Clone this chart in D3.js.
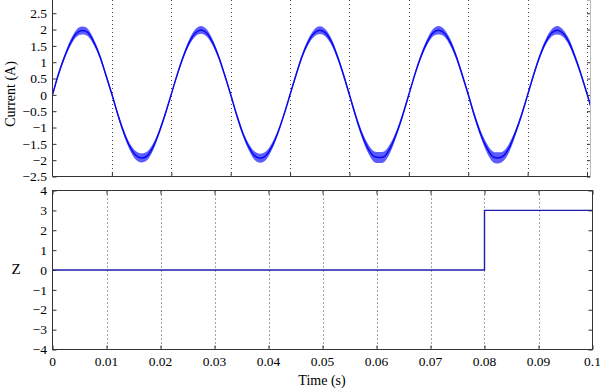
<!DOCTYPE html>
<html>
<head>
<meta charset="utf-8">
<script src="https://cdn.jsdelivr.net/npm/d3@7"></script>
<style>
  body { margin: 0; background: #fff; }
  svg { display: block; }
  svg text { font-family: "Liberation Serif", "Times New Roman", Times, serif; }
</style>
</head>
<body>
<div id="chart"></div>
<script>
var currentTime = d3.range(0, 92).map(function(k) { return k / 1000; });
var currentValue = [
  0.00, 0.63, 1.15, 1.58, 1.88, 1.97, 1.90, 1.60, 1.17, 0.60,
  0.02, -0.60, -1.15, -1.58, -1.85, -1.93, -1.86, -1.57, -1.12, -0.58,
  0.02, 0.62, 1.16, 1.60, 1.89, 1.99, 1.89, 1.59, 1.15, 0.60,
  0.01, -0.61, -1.16, -1.58, -1.86, -1.94, -1.85, -1.56, -1.13, -0.59,
  0.01, 0.61, 1.17, 1.60, 1.88, 1.98, 1.89, 1.61, 1.16, 0.61,
  0.00, -0.62, -1.17, -1.60, -1.87, -1.92, -1.87, -1.58, -1.14, -0.60,
  0.01, 0.62, 1.16, 1.59, 1.89, 1.98, 1.89, 1.60, 1.16, 0.60,
  0.01, -0.61, -1.15, -1.58, -1.87, -1.93, -1.86, -1.58, -1.13, -0.60,
  0.00, 0.61, 1.16, 1.60, 1.89, 1.98, 1.88, 1.60, 1.15, 0.62,
  0.03, -0.58
];
// half width of the noise band around the trace
var currentNoise = [
  0.04, 0.06, 0.07, 0.09, 0.11, 0.12, 0.11, 0.09, 0.07, 0.06,
  0.05, 0.06, 0.08, 0.10, 0.13, 0.14, 0.13, 0.10, 0.07, 0.06,
  0.04, 0.06, 0.07, 0.09, 0.11, 0.12, 0.11, 0.09, 0.07, 0.06,
  0.05, 0.06, 0.08, 0.10, 0.13, 0.14, 0.13, 0.10, 0.07, 0.06,
  0.04, 0.06, 0.07, 0.09, 0.11, 0.12, 0.11, 0.10, 0.08, 0.07,
  0.06, 0.08, 0.10, 0.13, 0.16, 0.17, 0.16, 0.13, 0.09, 0.07,
  0.05, 0.06, 0.07, 0.09, 0.11, 0.13, 0.11, 0.10, 0.08, 0.07,
  0.06, 0.08, 0.10, 0.13, 0.16, 0.17, 0.15, 0.13, 0.09, 0.07,
  0.05, 0.06, 0.07, 0.09, 0.11, 0.13, 0.11, 0.10, 0.08, 0.07,
  0.06, 0.07
];
var currentTicks = [-2.5, -2, -1.5, -1, -0.5, 0, 0.5, 1, 1.5, 2, 2.5];
var topTimeTicks = [0.01, 0.02, 0.03, 0.04, 0.05, 0.06, 0.07, 0.08, 0.09];

// switching state Z
var zTime = [0, 0.08, 0.08, 0.1];
var zValue = [0, 0, 3, 3];
var zTicks = [-4, -3, -2, -1, 0, 1, 2, 3, 4];
var timeTicks = [0, 0.01, 0.02, 0.03, 0.04, 0.05, 0.06, 0.07, 0.08, 0.09, 0.1];

var width = 600, height = 388;
var left = 52.5;

var svg = d3.select("#chart").append("svg")
    .attr("width", width)
    .attr("height", height);

var fmt = function(d) { return d3.format("~g")(d).replace("-", "\u2212"); };

// ---------- top panel ----------
var x1 = d3.scaleLinear().domain([0, 0.0905]).range([left, 590]);
var y1 = d3.scaleLinear().domain([-2.5, 2.905]).range([176.5, 0]);

svg.append("clipPath").attr("id", "clip1")
  .append("rect").attr("x", left).attr("y", 0).attr("width", 590 - left).attr("height", 176.5);

var topG = svg.append("g");

topG.selectAll(".grid1").data(topTimeTicks).enter().append("line")
    .attr("x1", function(d) { return Math.round(x1(d)) + 0.5; })
    .attr("x2", function(d) { return Math.round(x1(d)) + 0.5; })
    .attr("y1", 0).attr("y2", 176.5)
    .style("stroke", "#444").style("stroke-dasharray", "1,3");

var pts = currentTime.map(function(t, i) { return { t: t, v: currentValue[i], n: currentNoise[i] }; });

topG.append("path")
    .datum(pts)
    .attr("clip-path", "url(#clip1)")
    .attr("d", d3.area()
        .x(function(d) { return x1(d.t); })
        .y0(function(d) { return y1(d.v - d.n); })
        .y1(function(d) { return y1(d.v + d.n); })
        .curve(d3.curveCardinal))
    .style("fill", "#3535ff")
    .style("opacity", 0.8);

topG.append("path")
    .datum(pts)
    .attr("clip-path", "url(#clip1)")
    .attr("d", d3.line()
        .x(function(d) { return x1(d.t); })
        .y(function(d) { return y1(d.v); })
        .curve(d3.curveCardinal))
    .style("fill", "none")
    .style("stroke", "#0a0af0")
    .style("stroke-width", 1.5);

// left axis, inward ticks
var ax1 = topG.append("g").attr("transform", "translate(" + left + ",0)")
    .call(d3.axisRight(y1).tickValues(currentTicks).tickSize(4).tickFormat(""));
ax1.select(".domain").remove();
topG.append("line").attr("x1", left).attr("x2", left).attr("y1", 0).attr("y2", 176.5)
    .style("stroke", "#333");
topG.selectAll(".ylab1").data(currentTicks).enter().append("text")
    .attr("x", 47).attr("y", function(d) { return y1(d); })
    .attr("dy", "0.35em")
    .attr("text-anchor", "end")
    .style("font-size", "13.5px")
    .text(fmt);

// right axis ticks
var ax1r = topG.append("g").attr("transform", "translate(590,0)")
    .call(d3.axisLeft(y1).tickValues(currentTicks).tickSize(3).tickFormat(""));
ax1r.select(".domain").style("stroke", "#bbb");

// bottom line of top panel, inward ticks
var bx1 = topG.append("g").attr("transform", "translate(0,176.5)")
    .call(d3.axisTop(x1).tickValues(topTimeTicks).tickSize(4).tickFormat(""));
bx1.select(".domain").remove();
topG.append("line").attr("x1", left).attr("x2", 590).attr("y1", 176.5).attr("y2", 176.5)
    .style("stroke", "#333");

topG.append("text")
    .attr("transform", "translate(15,94) rotate(-90)")
    .attr("text-anchor", "middle")
    .style("font-size", "14px")
    .text("Current (A)");

// ---------- bottom panel ----------
var x2 = d3.scaleLinear().domain([0, 0.1]).range([left, 592.5]);
var y2 = d3.scaleLinear().domain([-4, 4]).range([349.5, 190.5]);

var bot = svg.append("g");

bot.selectAll(".grid2").data(timeTicks.slice(1, -1)).enter().append("line")
    .attr("x1", function(d) { return Math.round(x2(d)) + 0.5; })
    .attr("x2", function(d) { return Math.round(x2(d)) + 0.5; })
    .attr("y1", 190.5).attr("y2", 349.5)
    .style("stroke", "#444").style("stroke-dasharray", "1,3");

var zPts = zTime.map(function(t, i) { return { t: t, v: zValue[i] }; });
bot.append("path")
    .datum(zPts)
    .attr("d", d3.line()
        .x(function(d) { return x2(d.t); })
        .y(function(d) { return y2(d.v); }))
    .style("fill", "none")
    .style("stroke", "#1c1cb0")
    .style("stroke-width", 1.4);

bot.append("g").attr("transform", "translate(" + left + ",0)")
    .call(d3.axisRight(y2).tickValues(zTicks).tickSize(4).tickFormat(""))
    .select(".domain").remove();
bot.append("g").attr("transform", "translate(592.5,0)")
    .call(d3.axisLeft(y2).tickValues(zTicks).tickSize(4).tickFormat(""))
    .select(".domain").remove();
bot.append("g").attr("transform", "translate(0,349.5)")
    .call(d3.axisTop(x2).tickValues(timeTicks).tickSize(4).tickFormat(""))
    .select(".domain").remove();
bot.append("g").attr("transform", "translate(0,190.5)")
    .call(d3.axisBottom(x2).tickValues(timeTicks).tickSize(4).tickFormat(""))
    .select(".domain").remove();

bot.append("rect")
    .attr("x", left).attr("y", 190.5)
    .attr("width", 592.5 - left).attr("height", 349.5 - 190.5)
    .style("fill", "none").style("stroke", "#333");

bot.selectAll(".ylab2").data(zTicks).enter().append("text")
    .attr("x", 47).attr("y", function(d) { return y2(d); })
    .attr("dy", "0.35em")
    .attr("text-anchor", "end")
    .style("font-size", "13.5px")
    .text(fmt);

bot.selectAll(".xlab2").data(timeTicks).enter().append("text")
    .attr("x", function(d) { return x2(d); })
    .attr("y", 366)
    .attr("text-anchor", "middle")
    .style("font-size", "13.5px")
    .text(fmt);

bot.append("text")
    .attr("x", 16).attr("y", 274)
    .attr("text-anchor", "middle")
    .style("font-size", "15px")
    .text("Z");

bot.append("text")
    .attr("x", 322).attr("y", 385)
    .attr("text-anchor", "middle")
    .style("font-size", "14px")
    .text("Time (s)");

svg.selectAll(".tick line").style("stroke", "#333");
</script>
</body>
</html>
